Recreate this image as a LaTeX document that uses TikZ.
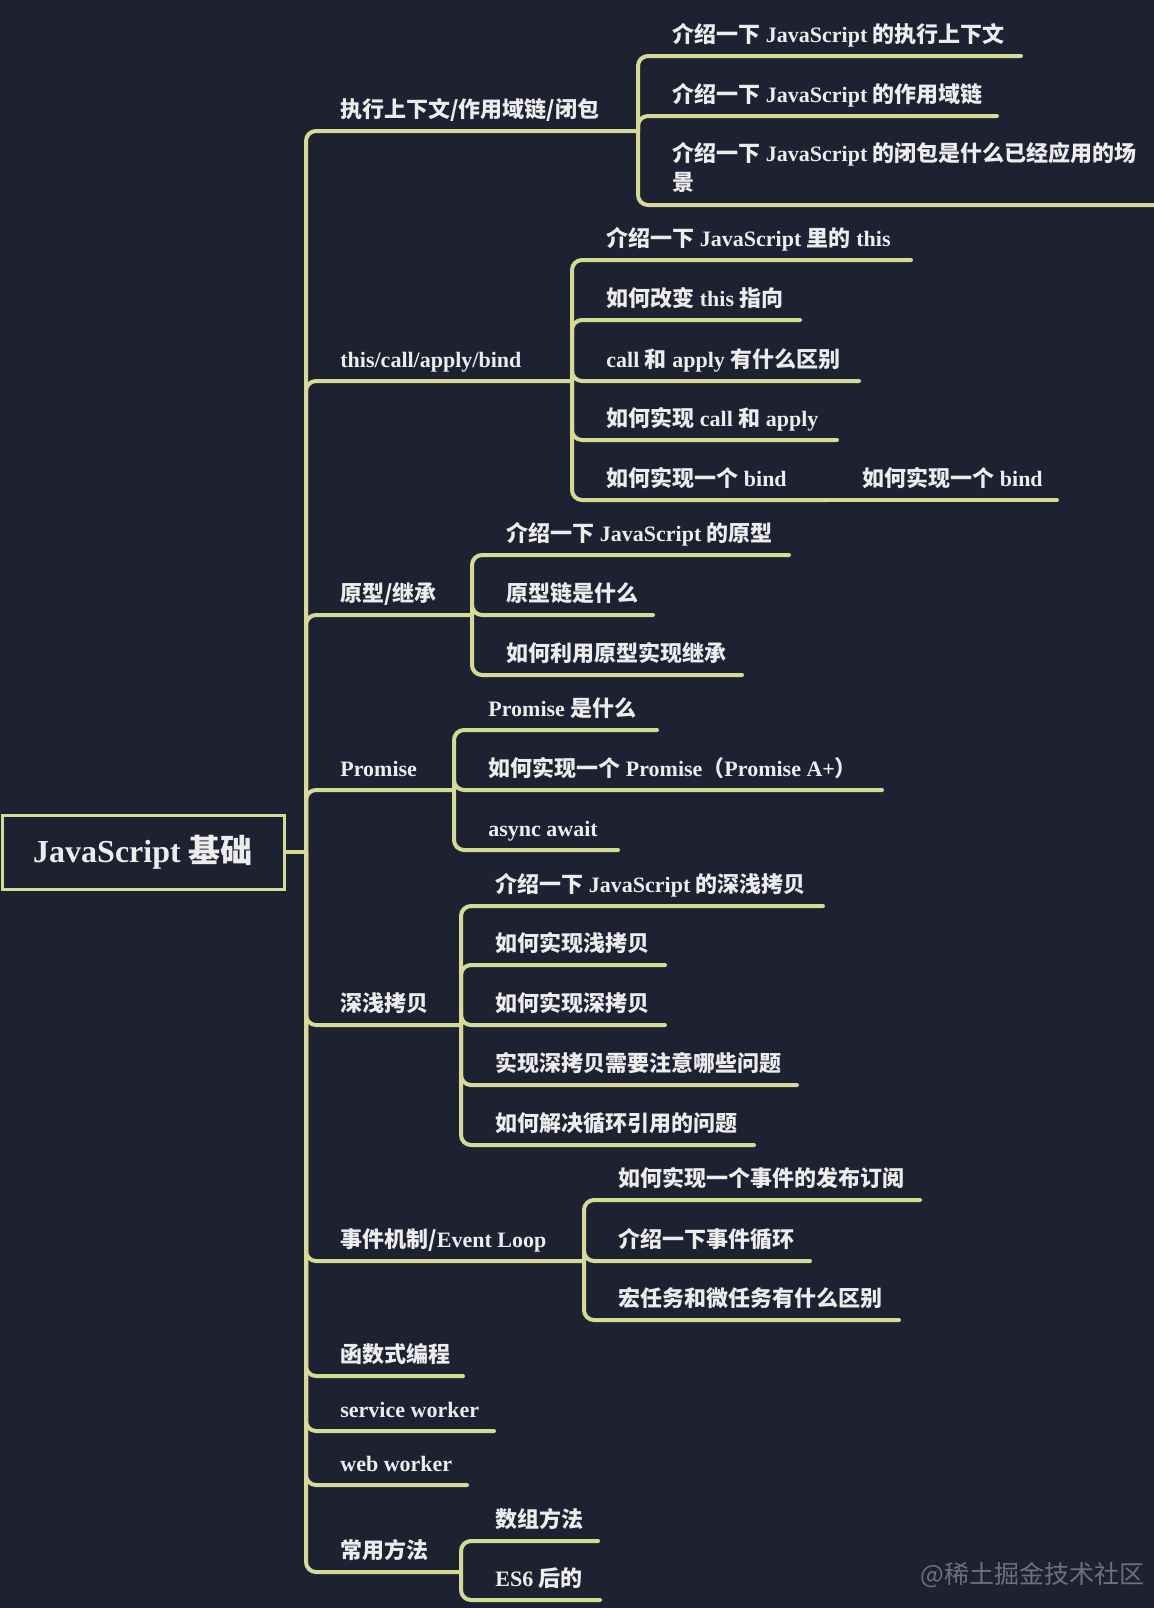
\documentclass[tikz,border=0pt]{standalone}
\usepackage{fontspec}
\setmainfont{Liberation Serif}
\newfontfamily\cjk{Noto Sans CJK SC}
\usetikzlibrary{positioning}
\definecolor{bgnavy}{HTML}{1E2132}
\definecolor{linkgreen}{HTML}{D5DB95}
\definecolor{topictext}{HTML}{ECECEC}
\definecolor{markgray}{HTML}{6C7080}
\newcommand{\zh}[1]{{\cjk\bfseries #1}}

\begin{document}
\begin{tikzpicture}[
    x=0.5pt, y=-0.5pt,
    % connectors
    link/.style={
        draw=linkgreen, line width=2pt, line cap=round, rounded corners=5pt,
      },
    % topic texts
    topic/.style={
        anchor=base west, inner sep=0pt, text=topictext,
        font=\fontsize{11}{14.5}\selectfont\bfseries,
      },
    rootbox/.style={
        draw=linkgreen, line width=1.5pt, fill=bgnavy, text=topictext,
        minimum width=141pt, minimum height=37pt,
        font=\fontsize{16}{18}\selectfont\bfseries,
      },
  ]
  \useasboundingbox (0,0) rectangle (1154,1608);
  \fill[bgnavy] (0,0) rectangle (1154,1608);

  % --- root ---
  \node[rootbox] (root) at (143,852) {JavaScript \zh{基础}};
  \coordinate (root-end) at (306,852);
  \draw[link] (root.east) -- (root-end);

  % --- first level: number/line y/line end/text ---
  \foreach \n/\y/\e/\t in {
      1/131/638/{\zh{执行上下文/作用域链/闭包}},
      2/381/572/{this/call/apply/bind},
      3/615/472/{\zh{原型/继承}},
      4/790/454/{Promise},
      5/1025/461/{\zh{深浅拷贝}},
      6/1261/584/{\zh{事件机制/}Event Loop},
      7/1376/463/{\zh{函数式编程}},
      8/1431/494/{service worker},
      9/1485/467/{web worker},
      10/1572/461/{\zh{常用方法}}} {
      \coordinate (b\n-end) at (\e,\y);
      \draw[link] (root-end) |- (b\n-end);
      \node[topic] (b\n) at (340,\y-14) {\t};
    }

  % --- execution context ---
  \foreach \n/\y/\e/\t in {
      1/56/1021/{\zh{介绍一下} JavaScript \zh{的执行上下文}},
      2/116/997/{\zh{介绍一下} JavaScript \zh{的作用域链}}} {
      \coordinate (b1c\n-end) at (\e,\y);
      \draw[link] (b1-end) |- (b1c\n-end);
      \node[topic] (b1c\n) at (672,\y-14) {\t};
    }
  \coordinate (b1c3-end) at (1160,205);
  \draw[link] (b1-end) |- (b1c3-end);
  \node[topic, align=left] (b1c3) at (672,190)
  {\zh{介绍一下} JavaScript \zh{的闭包是什么已经应用的场}\\\zh{景}};

  % --- this ---
  \foreach \n/\y/\e/\t in {
      1/260/911/{\zh{介绍一下} JavaScript \zh{里的} this},
      2/320/800/{\zh{如何改变} this \zh{指向}},
      3/381/859/{call \zh{和} apply \zh{有什么区别}},
      4/440/837/{\zh{如何实现} call \zh{和} apply},
      5/500/828/{\zh{如何实现一个} bind}} {
      \coordinate (b2c\n-end) at (\e,\y);
      \draw[link] (b2-end) |- (b2c\n-end);
      \node[topic] (b2c\n) at (606,\y-14) {\t};
    }
  \coordinate (b2c5g-end) at (1057,500);
  \draw[link] (b2c5-end) -- (b2c5g-end);
  \node[topic] (b2c5g) at (862,486) {\zh{如何实现一个} bind};

  % --- prototype ---
  \foreach \n/\y/\e/\t in {
      1/555/789/{\zh{介绍一下} JavaScript \zh{的原型}},
      2/615/653/{\zh{原型链是什么}},
      3/675/742/{\zh{如何利用原型实现继承}}} {
      \coordinate (b3c\n-end) at (\e,\y);
      \draw[link] (b3-end) |- (b3c\n-end);
      \node[topic] (b3c\n) at (506,\y-14) {\t};
    }

  % --- promise ---
  \foreach \n/\y/\e/\t in {
      1/730/657/{Promise \zh{是什么}},
      2/790/882/{\zh{如何实现一个} Promise\zh{（}Promise A+\zh{）}},
      3/850/618/{async await}} {
      \coordinate (b4c\n-end) at (\e,\y);
      \draw[link] (b4-end) |- (b4c\n-end);
      \node[topic] (b4c\n) at (488,\y-14) {\t};
    }

  % --- copy ---
  \foreach \n/\y/\e/\t in {
      1/906/823/{\zh{介绍一下} JavaScript \zh{的深浅拷贝}},
      2/965/665/{\zh{如何实现浅拷贝}},
      3/1025/665/{\zh{如何实现深拷贝}},
      4/1085/797/{\zh{实现深拷贝需要注意哪些问题}},
      5/1145/754/{\zh{如何解决循环引用的问题}}} {
      \coordinate (b5c\n-end) at (\e,\y);
      \draw[link] (b5-end) |- (b5c\n-end);
      \node[topic] (b5c\n) at (495,\y-14) {\t};
    }

  % --- event loop ---
  \foreach \n/\y/\e/\t in {
      1/1200/920/{\zh{如何实现一个事件的发布订阅}},
      2/1261/810/{\zh{介绍一下事件循环}},
      3/1320/899/{\zh{宏任务和微任务有什么区别}}} {
      \coordinate (b6c\n-end) at (\e,\y);
      \draw[link] (b6-end) |- (b6c\n-end);
      \node[topic] (b6c\n) at (618,\y-14) {\t};
    }

  % --- common methods ---
  \foreach \n/\y/\e/\t in {
      1/1541/598/{\zh{数组方法}},
      2/1600/600/{ES6 \zh{后的}}} {
      \coordinate (b10c\n-end) at (\e,\y);
      \draw[link] (b10-end) |- (b10c\n-end);
      \node[topic] (b10c\n) at (495,\y-14) {\t};
    }

  % watermark
  \node[anchor=east, inner sep=0pt, text=markgray, font=\fontsize{12.5}{14}\cjk]
  (mark) at (1145,1575) {@稀土掘金技术社区};

\end{tikzpicture}
\end{document}
